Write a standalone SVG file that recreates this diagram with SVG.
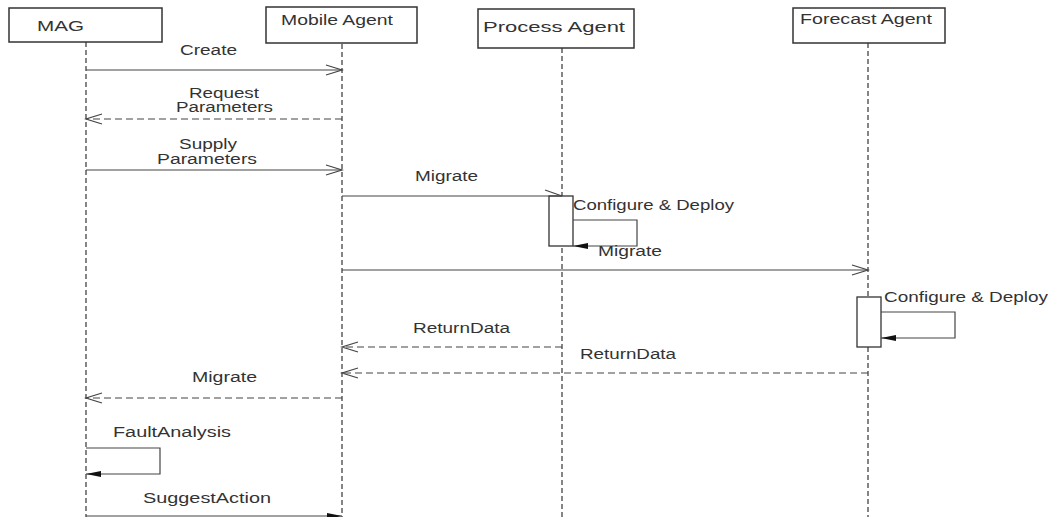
<svg xmlns="http://www.w3.org/2000/svg" width="1050" height="517" viewBox="0 0 1050 517">
<style>
text{font-family:"Liberation Sans",Arial,sans-serif;font-size:14px;fill:#333}
.box{fill:#fff;stroke:#333;stroke-width:1.5}
.life{stroke:#444;stroke-width:1.3;stroke-dasharray:5,3;fill:none}
.msg{stroke:#444;stroke-width:1.2;fill:none}
.ret{stroke:#444;stroke-width:1.2;fill:none;stroke-dasharray:7,4}
.act{fill:#fff;stroke:#333;stroke-width:1.3}
</style>
<defs>
<marker id="open" markerWidth="20" markerHeight="14" refX="18" refY="7" orient="auto-start-reverse" markerUnits="userSpaceOnUse">
<path d="M2,2 L18,7 L2,12" fill="none" stroke="#444" stroke-width="1.2"/>
</marker>
<marker id="fill" markerWidth="16" markerHeight="8" refX="15" refY="4" orient="auto" markerUnits="userSpaceOnUse">
<path d="M0,1 L15,4 L0,7 Z" fill="#111"/>
</marker>
</defs>
<rect width="1050" height="517" fill="#fff"/>
<g id="lifelines">
<line class="life" x1="86" y1="42" x2="86" y2="517"/>
<line class="life" x1="342" y1="44" x2="342" y2="517"/>
<line class="life" x1="562" y1="48" x2="562" y2="517"/>
<line class="life" x1="868" y1="43" x2="868" y2="517"/>
</g>
<g id="node-mag"><rect class="box" x="9" y="8" width="153" height="34"/><text x="37" y="31" textLength="47" lengthAdjust="spacingAndGlyphs">MAG</text></g>
<g id="node-mobile"><rect class="box" x="266" y="7" width="151" height="36"/><text x="281" y="25" textLength="112" lengthAdjust="spacingAndGlyphs">Mobile Agent</text></g>
<g id="node-process"><rect class="box" x="478" y="9" width="156" height="39"/><text x="483" y="32" font-size="16" textLength="142" lengthAdjust="spacingAndGlyphs">Process Agent</text></g>
<g id="node-forecast"><rect class="box" x="793" y="8" width="152" height="35"/><text x="800" y="24" textLength="132" lengthAdjust="spacingAndGlyphs">Forecast Agent</text></g>
<g id="act-process"><rect class="act" x="549" y="196" width="24" height="50"/></g>
<g id="act-forecast"><rect class="act" x="857" y="297" width="24" height="50"/></g>
<g id="connectors">
<line class="msg" x1="86" y1="70" x2="342" y2="70" marker-end="url(#open)"/>
<line class="ret" x1="342" y1="119" x2="86" y2="119" marker-end="url(#open)"/>
<line class="msg" x1="86" y1="170" x2="342" y2="170" marker-end="url(#open)"/>
<line class="msg" x1="342" y1="196" x2="562" y2="196"/>
<path class="msg" d="M545,190 L562,196"/>
<path class="msg" d="M573,220 H637 V246 H573" marker-end="url(#fill)"/>
<line class="msg" x1="342" y1="270" x2="868" y2="270" marker-end="url(#open)"/>
<path class="msg" d="M881,312 H955 V338 H881" marker-end="url(#fill)"/>
<line class="ret" x1="562" y1="347" x2="342" y2="347" marker-end="url(#open)"/>
<line class="ret" x1="868" y1="373" x2="342" y2="373" marker-end="url(#open)"/>
<line class="ret" x1="342" y1="398" x2="86" y2="398" marker-end="url(#open)"/>
<path class="msg" d="M86,448 H160 V474 H86" marker-end="url(#fill)"/>
<line class="msg" x1="86" y1="516" x2="342" y2="516" marker-end="url(#fill)"/>
</g>
<g id="labels">
<text x="180" y="55" textLength="57" lengthAdjust="spacingAndGlyphs">Create</text>
<text x="189" y="98" textLength="70" lengthAdjust="spacingAndGlyphs">Request</text>
<text x="176" y="112" textLength="97" lengthAdjust="spacingAndGlyphs">Parameters</text>
<text x="179" y="149" textLength="58" lengthAdjust="spacingAndGlyphs">Supply</text>
<text x="157" y="164" textLength="100" lengthAdjust="spacingAndGlyphs">Parameters</text>
<text x="415" y="181" textLength="63" lengthAdjust="spacingAndGlyphs">Migrate</text>
<text x="573" y="210" textLength="161" lengthAdjust="spacingAndGlyphs">Configure &amp; Deploy</text>
<text x="598" y="256" textLength="64" lengthAdjust="spacingAndGlyphs">Migrate</text>
<text x="884" y="302" textLength="164" lengthAdjust="spacingAndGlyphs">Configure &amp; Deploy</text>
<text x="413" y="333" textLength="97" lengthAdjust="spacingAndGlyphs">ReturnData</text>
<text x="580" y="359" textLength="96" lengthAdjust="spacingAndGlyphs">ReturnData</text>
<text x="192" y="382" textLength="65" lengthAdjust="spacingAndGlyphs">Migrate</text>
<text x="113" y="437" textLength="118" lengthAdjust="spacingAndGlyphs">FaultAnalysis</text>
<text x="143" y="503" textLength="128" lengthAdjust="spacingAndGlyphs">SuggestAction</text>
</g>
</svg>
